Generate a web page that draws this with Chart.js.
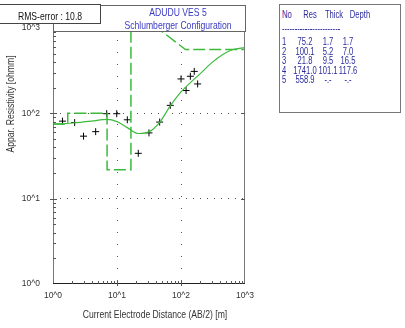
<!DOCTYPE html>
<html>
<head>
<meta charset="utf-8">
<script src="https://cdn.jsdelivr.net/npm/chart.js@4"></script>
<style>
  body { margin: 0; background: #fff; }
  #wrap { position: relative; width: 405px; height: 328px; overflow: hidden; }
  #wrap canvas { position: absolute; left: 0; top: 0; }
  .narrow { font-family: 'Liberation Sans', Arial, sans-serif; }
  .box { position: absolute; box-sizing: border-box; background: #fff; }
  .txt { position: absolute; white-space: nowrap; line-height: 12px; }
</style>
</head>
<body>
<div id="wrap">
  <canvas id="vesChart" width="405" height="328"></canvas>
</div>
<script>
// Field data (AB/2 in m, apparent resistivity in ohmm)
const obsAB2 = [1.41, 2.18, 3.0, 4.64, 6.9, 9.9, 14.5, 21.5, 31.6, 46.4, 68, 100, 120, 140, 161, 182];
const obsRho = [81, 78, 54, 61, 99, 99, 84, 34, 59, 79, 124, 253, 185, 272, 310, 221];

// Calculated model curve
const curveAB2 = [1, 2, 4, 7, 10, 14.5, 21.5, 32, 46, 68, 100, 150, 200, 300, 450, 650, 1000];
const curveRho = [74.5, 77, 81, 85, 80, 68, 58, 61, 78, 122, 178, 240, 292, 390, 490, 560, 590];

// Layer model as drawn (dashed)
const layerAB2 = [1, 1.7, 1.7, 7.0, 7.0, 16.5, 16.5, 117.6, 1000];
const layerRho = [75.2, 75.2, 100.1, 100.1, 21.8, 21.8, 1741, 558.9, 558.9];

// Layer table
const layerNo = ['1', '2', '3', '4', '5'];
const layerRes = ['75.2', '100.1', '21.8', '1741.0', '558.9'];
const layerThick = ['1.7', '5.2', '9.5', '101.1', '-.-'];
const layerDepth = ['1.7', '7.0', '16.5', '117.6', '-.-'];

const rmsError = '10.8';
const titleLine1 = 'ADUDU VES 5';
const titleLine2 = 'Schlumberger Configuration';
const xTitle = 'Current Electrode Distance (AB/2) [m]';
const yTitle = 'Appar. Resistivity [ohmm]';

const wrap = document.getElementById('wrap');

// helper to put a piece of (condensed) text on the page
function addText(parent, text, x, y, align, css, squeeze, rotate) {
    const el = document.createElement('div');
    el.className = 'txt narrow';
    el.textContent = text;
    el.style.top = (y - 6) + 'px';
    if (align === 'center') {
        el.style.left = (x - 100) + 'px';
        el.style.width = '200px';
        el.style.textAlign = 'center';
        el.style.transformOrigin = '50% 50%';
    } else {
        el.style.left = x + 'px';
        el.style.transformOrigin = '0 50%';
    }
    el.style.transform = (rotate ? 'rotate(' + rotate + 'deg) ' : '') + 'scaleX(' + (squeeze || 0.82) + ')';
    if (css) Object.assign(el.style, css);
    parent.appendChild(el);
    return el;
}

function addBox(x, y, w, h, border) {
    const el = document.createElement('div');
    el.className = 'box';
    el.style.left = x + 'px';
    el.style.top = y + 'px';
    el.style.width = w + 'px';
    el.style.height = h + 'px';
    el.style.border = '1px solid ' + border;
    wrap.appendChild(el);
    return el;
}

function toXY(xs, ys) {
    return xs.map((x, i) => ({ x: x, y: ys[i] }));
}

function isPow10(v) {
    const l = Math.log10(v);
    return Math.abs(l - Math.round(l)) < 1e-9;
}

// frame and small tick marks
const framePlugin = {
    id: 'frame',
    afterDatasetsDraw(chart) {
        const c = chart.ctx;
        const a = chart.chartArea;
        const xs = chart.scales.x;
        const ys = chart.scales.y;
        c.save();
        c.lineWidth = 1;
        c.strokeStyle = '#777';
        c.beginPath();
        c.moveTo(a.left + 0.5, a.top);
        c.lineTo(a.left + 0.5, a.bottom);
        c.moveTo(a.right - 0.5, a.top);
        c.lineTo(a.right - 0.5, a.bottom);
        c.stroke();

        c.strokeStyle = '#222';
        c.beginPath();
        c.moveTo(a.left, a.bottom - 0.5);
        c.lineTo(a.right, a.bottom - 0.5);
        c.stroke();

        c.strokeStyle = '#555';
        c.beginPath();
        [1, 10, 100].forEach(d => {
            for (let k = 2; k <= 9; k++) {
                const px = Math.round(xs.getPixelForValue(k * d)) + 0.5;
                c.moveTo(px, a.bottom);
                c.lineTo(px, a.bottom - 3);
                const py = Math.round(ys.getPixelForValue(k * d)) + 0.5;
                c.moveTo(a.left, py);
                c.lineTo(a.left + 3, py);
            }
        });
        [10, 100].forEach(v => {
            const px = Math.round(xs.getPixelForValue(v)) + 0.5;
            c.moveTo(px, a.bottom + 2);
            c.lineTo(px, a.bottom - 4);
            const py = Math.round(ys.getPixelForValue(v)) + 0.5;
            c.moveTo(a.left - 3, py);
            c.lineTo(a.left + 4, py);
            c.moveTo(a.right - 4, py);
            c.lineTo(a.right, py);
        });
        c.stroke();
        c.restore();
    }
};

const tickFont = { family: "'Liberation Sans', Arial, sans-serif", size: 8.5 };

function tickLabel(value) {
    return isPow10(value) ? '10^' + Math.round(Math.log10(value)) : '';
}

function gridColor(ctx) {
    const v = ctx.tick && ctx.tick.value;
    return (v === 10 || v === 100) ? '#555' : 'rgba(0,0,0,0)';
}

const ctx = document.getElementById('vesChart').getContext('2d');

const chart = new Chart(ctx, {
    data: {
        datasets: [
            {
                type: 'line',
                label: 'Layer model',
                data: toXY(layerAB2, layerRho),
                borderColor: '#3dba3d',
                borderWidth: 1.5,
                borderDash: [12, 4],
                pointRadius: 0,
                tension: 0,
                fill: false
            },
            {
                type: 'line',
                label: 'Model curve',
                data: toXY(curveAB2, curveRho),
                borderColor: '#3dba3d',
                borderWidth: 1.2,
                pointRadius: 0,
                cubicInterpolationMode: 'monotone',
                fill: false
            },
            {
                type: 'scatter',
                label: 'Field data',
                data: toXY(obsAB2, obsRho),
                pointStyle: 'cross',
                pointRadius: 3.5,
                borderColor: '#000',
                backgroundColor: '#000',
                borderWidth: 1
            }
        ]
    },
    options: {
        responsive: false,
        animation: false,
        layout: { padding: { top: 28, right: 160, left: 0, bottom: 0 } },
        plugins: {
            legend: { display: false },
            tooltip: { enabled: false }
        },
        scales: {
            x: {
                type: 'logarithmic',
                min: 1,
                max: 1000,
                afterFit(scale) { scale.height = 44; },
                border: { display: false, dash: [1, 11] },
                grid: { color: gridColor, drawTicks: false, lineWidth: 1 },
                ticks: {
                    autoSkip: false,
                    maxRotation: 0,
                    padding: 7,
                    color: '#333',
                    font: tickFont,
                    callback: tickLabel
                }
            },
            y: {
                type: 'logarithmic',
                min: 1,
                max: 1000,
                afterFit(scale) { scale.width = 53; },
                border: { display: false, dash: [1, 6] },
                grid: { color: gridColor, drawTicks: false, lineWidth: 1 },
                ticks: {
                    autoSkip: false,
                    padding: 13,
                    color: '#333',
                    font: tickFont,
                    callback: tickLabel
                }
            }
        }
    },
    plugins: [framePlugin]
});

// title box over the top of the plot
addBox(53, 5, 193, 27, '#666');
addText(wrap, titleLine1, 178, 12, 'center', { fontSize: '10.5px', color: '#3a3ac4' });
addText(wrap, titleLine2, 178, 25, 'center', { fontSize: '10.5px', color: '#3a3ac4' });

// RMS box sits on top of the title box
addBox(-1, 4, 102, 20, '#444');
addText(wrap, 'RMS-error : ' + rmsError, 50, 16, 'center', { fontSize: '10.5px', color: '#111' });

// axis titles
addText(wrap, xTitle, 155, 314, 'center', { fontSize: '10.5px', color: '#333' });
addText(wrap, yTitle, 10, 104, 'center', { fontSize: '10.5px', color: '#333' }, 0.82, -90);

// layer table
addBox(279, 4, 122, 109, '#777');
const tableCss = { fontSize: '10px', color: '#2a2a9c' };
const tSq = 0.76;
addText(wrap, 'No', 282, 15, 'left', tableCss, tSq);
addText(wrap, 'Res', 309.5, 15, 'center', tableCss, tSq);
addText(wrap, 'Thick', 334, 15, 'center', tableCss, tSq);
addText(wrap, 'Depth', 360, 15, 'center', tableCss, tSq);
addText(wrap, '-----------------------', 282, 29, 'left', tableCss, tSq);
const rowY = [42, 51.5, 61, 70.5, 80];
layerNo.forEach((n, i) => {
    addText(wrap, n, 282, rowY[i], 'left', tableCss, tSq);
    addText(wrap, layerRes[i], 305, rowY[i], 'center', tableCss, tSq);
    addText(wrap, layerThick[i], 328, rowY[i], 'center', tableCss, tSq);
    addText(wrap, layerDepth[i], 348, rowY[i], 'center', tableCss, tSq);
});
</script>
</body>
</html>
